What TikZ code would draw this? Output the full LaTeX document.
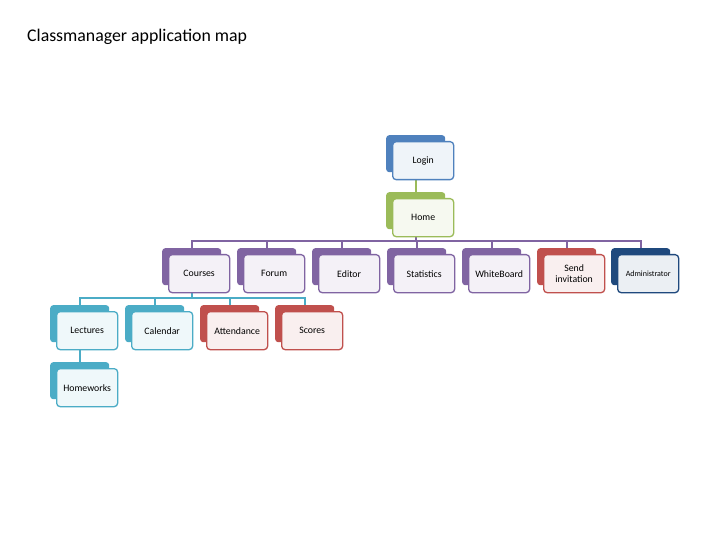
\documentclass[tikz,border=0pt]{standalone}
\usepackage{fontspec}
\setmainfont{Carlito}
\usetikzlibrary{backgrounds}
\definecolor{cblue}{HTML}{4F81BD}
\definecolor{cgreen}{HTML}{9BBB59}
\definecolor{cpurple}{HTML}{8064A2}
\definecolor{cred}{HTML}{C0504D}
\definecolor{cnavy}{HTML}{1F497D}
\definecolor{cteal}{HTML}{4BACC6}
\tikzset{
  backbox/.style={fill=#1, minimum width=59bp, minimum height=37bp, rounded corners=3bp, inner sep=0pt, anchor=north west, draw=none},
  frontbox/.style={draw=#1, fill=#1!9!white, line width=1.3bp, minimum width=61bp, minimum height=38bp, rounded corners=3.5bp, inner sep=1bp, anchor=north west, align=center, font=\fontsize{9.8bp}{11bp}\selectfont, text=black},
  conn/.style={draw=#1, line width=1.6bp},
}
\newcommand{\appbox}[5]{%
  \node[backbox=#4] (#1-b) at (#2,#3) {};
  \node[frontbox=#4] (#1) at (#2+6,#3+6) {#5};
}
\begin{document}
\begin{tikzpicture}[x=1bp,y=-1bp]
\useasboundingbox (0,0) rectangle (720,540);
\node[anchor=west, font=\fontsize{17.8bp}{19bp}\selectfont, inner sep=0pt] (title) at (27,37) {Classmanager application map};
\appbox{login}{386}{135}{cblue}{Login}
\appbox{home}{386}{192}{cgreen}{Home}
\appbox{courses}{162}{248}{cpurple}{Courses}
\appbox{forum}{237}{248}{cpurple}{Forum}
\appbox{editor}{312}{248}{cpurple}{Editor}
\appbox{stats}{387}{248}{cpurple}{Statistics}
\appbox{white}{462}{248}{cpurple}{WhiteBoard}
\appbox{send}{537}{248}{cred}{Send\\invitation}
\node[backbox=cnavy] (admin-b) at (611,248) {};
\node[frontbox=cnavy, font=\fontsize{8bp}{9bp}\selectfont] (admin) at (617,254) {Administrator};
\appbox{lectures}{50}{305}{cteal}{Lectures}
\appbox{calendar}{125}{305}{cteal}{Calendar}
\appbox{attend}{200}{305}{cred}{Attendance}
\appbox{scores}{275}{305}{cred}{Scores}
\appbox{homew}{50}{362}{cteal}{Homeworks}
\begin{scope}[on background layer]
\fill[white] (0,0) rectangle (720,540);
\draw[conn=cgreen] (login-b.center) -- (home-b.north);
\coordinate (bus1) at (home-b.center |- 0,241);
\draw[conn=cpurple] (home-b.center) -- (bus1);
\draw[conn=cpurple] (courses-b.north) -- ++(0,-7) -| (admin-b.north);
\foreach \n in {forum,editor,stats,white,send}{\draw[conn=cpurple] (\n-b.north) -- ++(0,-7);}
\coordinate (bus2) at (courses-b.center |- 0,298);
\draw[conn=cteal] (courses-b.center) -- (bus2);
\draw[conn=cteal] (lectures-b.north) -- ++(0,-7) -| (scores-b.north);
\foreach \n in {calendar,attend}{\draw[conn=cteal] (\n-b.north) -- ++(0,-7);}
\draw[conn=cteal] (lectures-b.center) -- (homew-b.north);
\end{scope}
\end{tikzpicture}
\end{document}
